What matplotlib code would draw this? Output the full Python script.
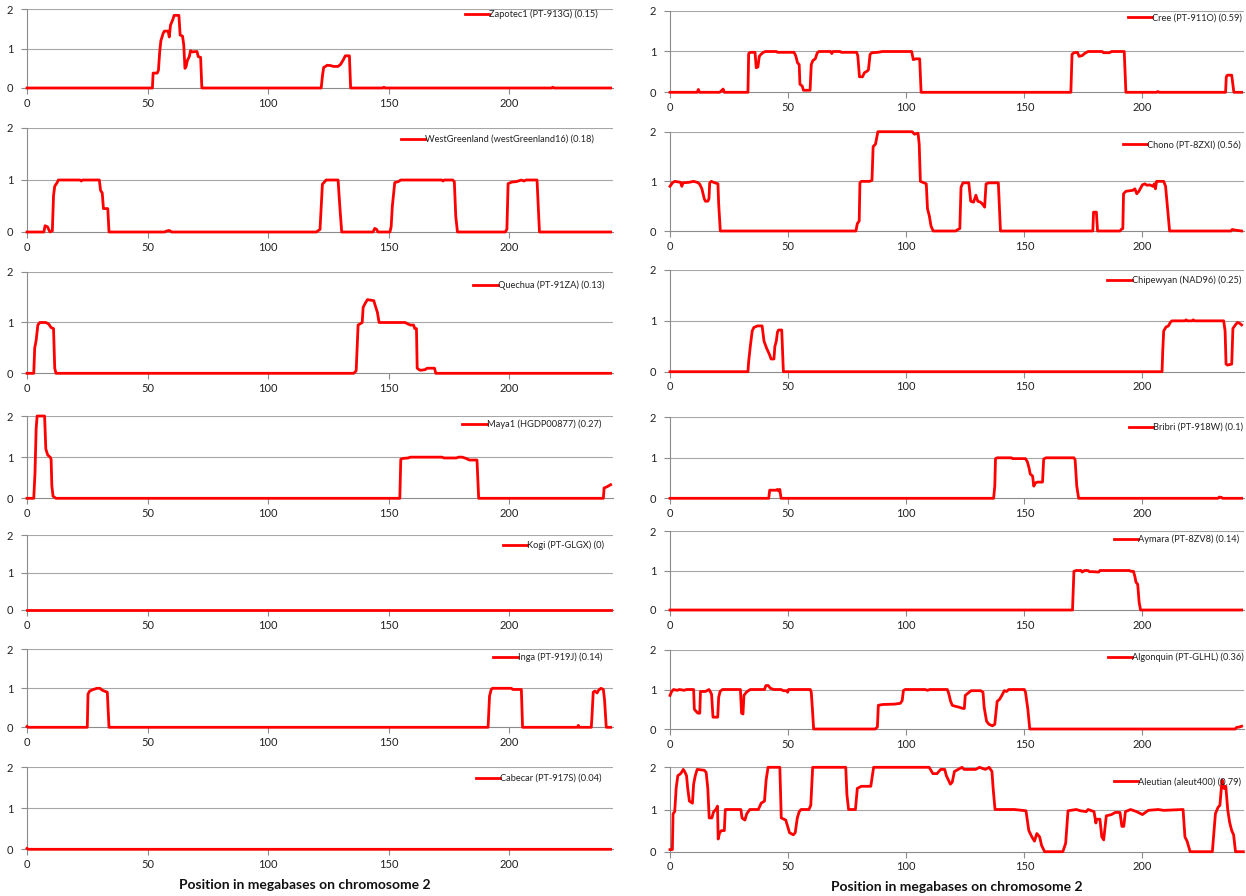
import matplotlib
matplotlib.use("Agg")
import matplotlib.pyplot as plt
from matplotlib import font_manager

names = {f.name for f in font_manager.fontManager.ttflist}
FONT = "Lato" if "Lato" in names else "Liberation Sans"
plt.rcParams['font.family'] = [FONT, 'DejaVu Sans']

XTICKS = [0, 50, 100, 150, 200]
YTICKS = [0, 1, 2]
XLABEL = "Position in megabases on chromosome 2"

# ---- data: (position Mb, copies of ancestry) breakpoints ----
zapotec = [(0,0),(52,0),(52.3,0.38),(54,0.38),(54.5,0.45),(55,0.9),(55.5,1.2),(56.5,1.4),(57,1.45),(58.5,1.45),(59,1.3),
           (59.5,1.6),(60.5,1.75),(61,1.85),(63,1.85),(63.5,1.35),(64.5,1.32),(65,1.1),(65.5,0.5),(66,0.55),(66.5,0.7),
           (67.3,0.8),(67.8,0.95),(68.5,0.92),(70.5,0.93),(71,0.8),(72,0.78),(72.5,0),(122,0),(122.5,0.3),(123,0.52),
           (124.5,0.58),(126,0.57),(127,0.55),(129,0.55),(130,0.6),(131,0.7),(132,0.82),(133.7,0.82),(134.2,0),
           (147.5,0),(148,0.02),(148.5,0),(217.5,0),(218,0.02),(218.5,0),(242,0)]
westgreenland = [(0,0),(7,0),(7.5,0.12),(8.5,0.1),(9.5,0),(10.5,0.02),(11,0.7),(11.5,0.88),(12.5,0.95),(13,1.0),(22,1.0),
                 (22.5,0.98),(23,1.0),(30,1.0),(30.5,0.8),(31.2,0.75),(31.7,0.45),(33.5,0.45),(34,0),(57,0),(58,0.02),
                 (59,0.03),(60,0),(120,0),(121.5,0.05),(122.5,0.92),(123.5,0.97),(124,1.0),(129,1.0),(129.7,0.5),(130.5,0),
                 (143.5,0),(144.2,0.07),(145,0.05),(145.5,0),(150.5,0),(151,0.1),(151.5,0.5),(152.5,0.95),(154,0.97),
                 (155,1.0),(172,1.0),(172.5,0.98),(173,1.0),(176.5,1.0),(177.2,0.97),(177.8,0.3),(178.5,0),(198.3,0),
                 (199,0.05),(199.5,0.93),(201,0.96),(203,0.97),(205,1.0),(206,0.98),(207,1.0),(211.5,1.0),(212,0.5),
                 (212.5,0),(242,0)]
quechua = [(0,0),(2.8,0),(3.2,0.5),(3.8,0.65),(4.5,0.95),(5.3,1.0),(7.8,1.0),(9,0.97),(10,0.9),(11,0.88),(11.5,0.1),(12,0),
           (135.5,0),(136.5,0.05),(137.3,0.95),(138,0.97),(139,1.0),(139.4,1.3),(140.5,1.4),(141.2,1.45),(143.8,1.43),
           (144.3,1.35),(145.3,1.2),(146,1.0),(156.8,1.0),(158,0.97),(159,0.95),(160.3,0.95),(160.8,0.88),(161.5,0.88),
           (161.8,0.1),(163,0.06),(165,0.07),(165.9,0.1),(169,0.1),(169.5,0),(242,0)]
maya1 = [(0,0),(2.8,0),(3.3,0.6),(3.8,1.7),(4.2,2.0),(7.3,2.0),(7.8,1.2),(8.6,1.05),(9.6,1.0),(10,0.95),(10.3,0.3),
         (10.8,0.05),(12,0),(154.6,0),(155,0.95),(156,0.97),(158,0.98),(159,1.0),(172,1.0),(173,0.98),(178,0.98),
         (179,1.0),(180.5,1.0),(182,0.97),(183.5,0.93),(186.6,0.93),(187.3,0),(239,0),(239.3,0.25),(240.5,0.28),(242,0.33)]
kogi = [(0,0),(242,0)]
inga = [(0,0.02),(0.5,0),(25,0),(25.3,0.85),(26,0.93),(27.5,0.97),(29,1.0),(30.3,1.0),(31,0.96),(32,0.93),(33.3,0.9),
        (34,0),(191.2,0),(191.8,0.8),(192.5,0.97),(193,1.0),(200.8,1.0),(201.5,0.97),(205,0.97),(205.5,0),(228.3,0),
        (228.6,0.05),(229,0),(234,0),(234.3,0.3),(234.8,0.9),(235.5,0.93),(236.4,0.88),(237,0.95),(238,1.0),
        (239,0.97),(239.5,0.7),(240.2,0),(242,0)]
cabecar = [(0,0.02),(0.5,0),(242,0)]
cree = [(0,0),(11.5,0),(12,0.07),(12.5,0),(21,0),(22,0.05),(22.5,0.08),(23,0),(33,0),(33.3,0.95),(34,0.98),(36,0.98),
        (36.5,0.6),(37.2,0.62),(37.8,0.88),(38.5,0.93),(39.5,0.98),(40.5,1.0),(45,1.0),(45.5,0.98),(52.5,0.98),
        (53.2,0.9),(54,0.72),(54.7,0.68),(55,0.2),(56,0.15),(56.5,0.05),(59.3,0.05),(59.8,0.68),(60.5,0.78),
        (61.5,0.82),(62.3,0.96),(63,1.0),(68,1.0),(68.5,0.95),(69,1.0),(72,1.0),(72.5,0.98),(79,0.98),(79.5,0.9),
        (80.2,0.38),(81.5,0.38),(82.3,0.48),(83.5,0.52),(84,0.55),(84.7,0.93),(85.5,0.97),(88,0.98),(90,1.0),
        (102.3,1.0),(103,0.8),(104,0.82),(105.7,0.82),(106.3,0),(169.7,0),(170.2,0.93),(171,0.97),(172.5,0.98),
        (173.2,0.88),(174.5,0.9),(175.5,0.95),(177,1.0),(183,1.0),(183.5,0.97),(186,0.97),(187,1.0),(192.3,1.0),
        (193,0),(206,0),(206.5,0.02),(207,0),(235.2,0),(235.5,0.38),(236,0.42),(237.8,0.42),(238.7,0),(242,0)]
chono = [(0,0.9),(1,0.97),(2,1.0),(4.5,0.98),(5,0.9),(5.5,0.97),(8,0.98),(10,1.0),(11.5,0.98),(12.5,0.95),(13.5,0.85),
         (14.5,0.65),(15,0.6),(16,0.6),(16.5,0.65),(16.8,0.97),(17.5,1.0),(19,0.97),(20.3,0.95),(20.6,0.55),(21.3,0),
         (78.7,0),(79.3,0.15),(80.1,0.2),(80.4,0.97),(81,1.0),(84.5,1.0),(85.5,1.02),(86,1.7),(87,1.75),(88,2.0),
         (102.5,2.0),(103.5,1.95),(105,1.97),(105.5,1.75),(106,1.0),(107.5,0.97),(108.5,0.95),(109,0.45),(109.8,0.3),
         (110.5,0.1),(111.4,0),(121,0),(121.5,0.02),(122.7,0.05),(123.2,0.88),(124,0.97),(126.5,0.97),(127.3,0.6),
         (128.5,0.58),(129.5,0.72),(130.3,0.6),(131.5,0.58),(132.5,0.53),(133.2,0.48),(133.8,0.95),(135,0.97),
         (139,0.97),(139.9,0),(179,0),(179.3,0.38),(180.5,0.38),(181,0),(190.5,0),(191,0.03),(191.7,0.05),(192,0.75),
         (193,0.8),(196,0.82),(196.8,0.85),(197.6,0.75),(198.5,0.8),(200,0.93),(201,0.95),(202,0.92),(203,0.93),
         (204.5,0.9),(205,0.95),(205.5,0.85),(206,1.0),(209,1.0),(209.8,0.9),(211.5,0),(237.5,0),(238,0.03),
         (239,0.02),(242,0)]
chipewyan = [(0,0),(33,0),(33.3,0.2),(34,0.5),(34.8,0.8),(35.5,0.87),(37,0.9),(39,0.9),(39.8,0.6),(41,0.45),(42,0.35),
             (42.8,0.25),(44,0.25),(44.4,0.5),(45,0.6),(45.5,0.78),(46,0.82),(47.3,0.82),(48,0),(208.3,0),(208.6,0.4),
             (209,0.8),(210,0.88),(211,0.9),(211.8,0.97),(212.5,1.0),(218,1.0),(218.5,1.02),(219,1.0),(221,1.0),
             (221.5,1.02),(222,1.0),(234.4,1.0),(235,0.8),(235.4,0.15),(236,0.13),(237.8,0.15),(238.3,0.85),
             (239.5,0.93),(240.3,0.97),(241.2,0.95),(242,0.92)]
bribri = [(0,0),(41.8,0),(42.2,0.2),(45,0.2),(45.5,0.22),(46,0.18),(46.5,0.22),(47,0),(137,0),(137.5,0.3),(137.8,0.98),
          (138.5,1.0),(144.5,1.0),(145,0.98),(150.5,0.98),(151.3,0.9),(152,0.75),(152.5,0.6),(153.5,0.55),(154,0.3),
          (154.7,0.38),(155.5,0.4),(157.7,0.4),(158.2,0.97),(159.2,1.0),(171,1.0),(171.5,0.95),(172.2,0.3),(173,0),
          (232,0),(232.5,0.03),(233.5,0.02),(234,0),(242,0)]
aymara = [(0,0),(170.4,0),(171,0.98),(172,1.0),(174,1.0),(174.5,0.96),(175.5,1.0),(177,1.0),(177.5,0.97),(179,0.97),
          (181.5,0.96),(182,1.0),(194.5,1.0),(195,0.98),(196.2,0.98),(196.8,0.85),(197.3,0.7),(198,0.65),(198.6,0.2),
          (199.2,0),(242,0)]
algonquin = [(0,0.85),(0.7,0.95),(1.5,1.0),(3,0.98),(4,1.0),(6,0.98),(7,1.0),(10,1.0),(10.3,0.5),(11,0.45),(11.8,0.4),
             (12.6,0.4),(12.9,0.95),(15,0.95),(16.5,1.0),(17,0.95),(17.6,0.88),(18.2,0.3),(20.2,0.3),(20.6,0.8),
             (21.2,0.95),(22.2,1.0),(29.8,1.0),(30.3,0.4),(30.9,0.38),(31.3,0.85),(32.3,0.93),(33.2,0.97),(34,1.0),
             (40,1.0),(40.6,1.1),(41.6,1.1),(42.5,1.03),(44,1.0),(47,1.0),(48,0.97),(49.3,0.97),(49.8,0.93),(50.2,1.0),
             (59.4,1.0),(59.8,0.93),(60.3,0.5),(60.8,0),(86.9,0),(87.8,0.05),(88.2,0.6),(90,0.62),(95,0.63),
             (97.5,0.65),(98.3,0.72),(98.8,0.97),(99.5,1.0),(108,1.0),(109,0.98),(110,1.0),(117.4,1.0),(118,0.9),
             (118.8,0.7),(119.5,0.6),(120.5,0.58),(122.5,0.55),(124,0.52),(124.6,0.52),(125,0.85),(126,0.9),
             (127.5,0.97),(131.5,0.97),(132.5,0.93),(133,0.55),(134,0.2),(135,0.12),(136.5,0.08),(137.5,0.12),
             (138.5,0.7),(139.5,0.75),(140.5,0.85),(141.5,0.97),(142.5,0.95),(143.4,1.0),(150,1.0),(150.5,0.93),
             (151.5,0.5),(152.3,0),(239.3,0),(239.8,0.04),(241,0.05),(242,0.07)]
aleutian = [(0,0.05),(1,0.05),(1.3,0.9),(2,0.95),(2.6,1.5),(3.3,1.8),(4.5,1.85),(5.1,1.9),(5.6,1.95),(6.2,1.9),(7,1.8),
            (7.5,1.5),(8.2,1.2),(9.5,1.15),(10,1.6),(10.7,1.8),(11.5,1.95),(14.5,1.93),(15.3,1.88),(16,1.5),(16.6,0.8),
            (17.7,0.8),(18.5,0.95),(19.4,1.0),(20.1,1.08),(20.4,0.3),(21,0.45),(21.8,0.5),(23,0.5),(23.4,1.0),
            (24.3,1.0),(30,1.0),(30.5,0.8),(31.7,0.75),(32.5,0.9),(33.8,1.0),(37.4,1.0),(38.6,1.15),(40,1.2),
            (40.7,1.7),(41.5,2.0),(46.5,2.0),(47.1,0.8),(49,0.75),(49.8,0.6),(50.6,0.45),(52.2,0.4),(53,0.45),
            (53.9,0.8),(54.7,0.95),(55.5,1.0),(58.8,1.0),(59.6,1.1),(60.4,2.0),(74.4,2.0),(74.9,1.35),(75.6,1.0),
            (78.5,1.0),(79.3,1.5),(81,1.55),(85,1.55),(86.2,2.0),(109.7,2.0),(111.3,1.85),(113,1.85),(114.6,1.95),
            (116.3,1.95),(117,1.8),(118.7,1.6),(119.5,1.65),(120.4,1.9),(122,1.95),(123.6,2.0),(124.5,1.95),
            (129.4,1.95),(131,2.0),(133.5,1.95),(135.1,2.0),(136.3,1.9),(136.8,1.5),(137.6,1.0),(140.9,1.0),
            (145.8,1.0),(150.7,0.97),(151.9,0.5),(153.2,0.35),(154.3,0.25),(155.3,0.43),(156.5,0.35),(157.3,0.15),
            (158.6,0),(166.3,0),(167.5,0.2),(168.5,0.97),(172,1.0),(173.7,0.97),(176.2,0.95),(177,1.0),(179.5,0.95),
            (180.3,0.68),(180.6,0.77),(182,0.77),(182.8,0.35),(183.6,0.28),(184.7,0.85),(186.9,0.88),(188.5,0.93),
            (190.5,0.93),(191.3,0.6),(192.1,0.6),(192.8,0.95),(195,1.0),(197.5,0.95),(200,0.88),(202.5,0.98),
            (206.6,1.0),(209,0.98),(217.2,1.0),(218,0.35),(218.9,0.25),(220.2,0),(229.6,0),(230.9,0.9),(232,1.05),
            (232.8,1.1),(233.7,1.7),(234.5,1.5),(235.3,1.55),(236.1,1.0),(236.9,0.7),(237.8,0.5),(238.6,0.4),
            (239.4,0),(242.7,0)]

left_labels = ["Zapotec1 (PT-913G) (0.15)", "WestGreenland (westGreenland16) (0.18)", "Quechua (PT-91ZA) (0.13)",
               "Maya1 (HGDP00877) (0.27)", "Kogi (PT-GLGX) (0)", "Inga (PT-919J) (0.14)", "Cabecar (PT-917S) (0.04)"]
right_labels = ["Cree (PT-911O) (0.59)", "Chono (PT-8ZXI) (0.56)", "Chipewyan (NAD96) (0.25)", "Bribri (PT-918W) (0.1)",
                "Aymara (PT-8ZV8) (0.14)", "Algonquin (PT-GLHL) (0.36)", "Aleutian (aleut400) (0.79)"]
left_series = [zapotec, westgreenland, quechua, maya1, kogi, inga, cabecar]
right_series = [cree, chono, chipewyan, bribri, aymara, algonquin, aleutian]

# ---- layout (pixels) ----
W, H = 1246, 896
fig = plt.figure(figsize=(W/100, H/100), dpi=100)
left_rows = [(9.5, 88), (128, 232), (271.7, 373.3), (416, 498.3), (535, 610), (649.3, 727.3), (767.3, 849.3)]
right_rows = [(10.7, 92.3), (131.7, 231), (270, 371.7), (417.3, 498.3), (531, 610), (650, 729), (767.3, 851.7)]
left_leg = [(598, 14.3), (594, 139.3), (604, 285), (601, 424.3), (604, 545), (602, 657.3), (601.5, 778.3)]
right_leg = [(1242, 17.7), (1241, 145), (1241, 280), (1243, 427.3), (1239, 539), (1244, 657.3), (1241, 781.7)]
cols = [((27, 613), left_rows, left_series, left_labels, left_leg),
        ((670, 1244), right_rows, right_series, right_labels, right_leg)]

GRID = '#a6a6a6'
AXC = '#8c8c8c'
for (x0, x1), rows, series, labels, legs in cols:
    for (ytop, ybot), data, lab, (lx, ly) in zip(rows, series, labels, legs):
        ax = fig.add_axes([x0/W, 1 - ybot/H, (x1-x0)/W, (ybot-ytop)/H])
        xs = [p[0] for p in data]
        ys = [p[1] for p in data]
        ax.plot(xs, ys, color='#ff0000', lw=2.0, label=lab, clip_on=False, solid_joinstyle='round', zorder=3)
        ax.set_xlim(0, 243)
        ax.set_ylim(0, 2)
        ax.set_xticks(XTICKS)
        ax.set_yticks(YTICKS)
        for s in ('top', 'right'):
            ax.spines[s].set_visible(False)
        for s in ('left', 'bottom'):
            ax.spines[s].set_color(AXC)
            ax.spines[s].set_linewidth(0.8)
        for yv in (1, 2):
            ax.axhline(yv, color=GRID, lw=0.8, zorder=1)
        ax.tick_params(axis='both', colors=AXC, length=4, width=0.8, labelsize=8, labelcolor='#222222', pad=3)
        ax.tick_params(axis='y', pad=6)
        ax.set_facecolor('none')
        leg = ax.legend(loc='center right', bbox_to_anchor=(lx/W, 1 - ly/H), bbox_transform=fig.transFigure,
                        frameon=False, fontsize=6.7, handlelength=2.6, handletextpad=0.0,
                        borderaxespad=0, borderpad=0)
        for t in leg.get_texts():
            t.set_color('#222222')

fig.text(305/W, 1 - 885/H, XLABEL, ha='center', va='center', fontsize=10, fontweight='bold', color='#111111')
fig.text(957/W, 1 - 887/H, XLABEL, ha='center', va='center', fontsize=10, fontweight='bold', color='#111111')

fig.savefig('out.png', dpi=100)
